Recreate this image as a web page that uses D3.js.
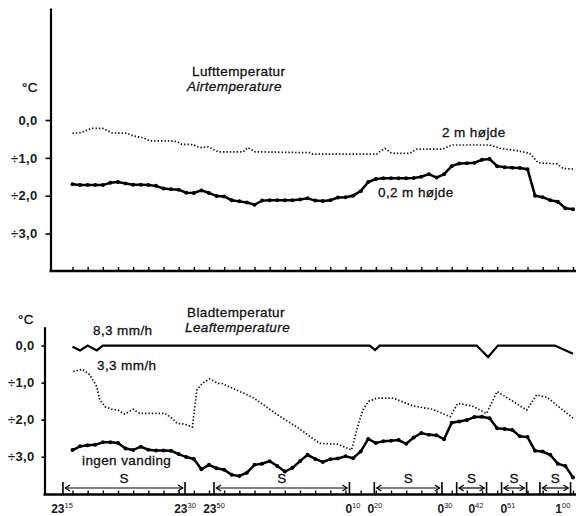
<!DOCTYPE html>
<html>
<head>
<meta charset="utf-8">
<script src="https://cdn.jsdelivr.net/npm/d3@7"></script>
<style>
    body { margin: 0; background: #fff; }
    svg { display: block; font-family: 'Liberation Sans', Arial, sans-serif; }
</style>
</head>
<body>
<svg id="chart" width="576" height="516"></svg>
<script>
// Samples: one every half tick (s = 0 .. 66)
const tickSamples = d3.range(0, 67, 2);

// Lufttemperatur, 0,2 m hojde (one value per sample)
const air02 = [
    -1.70, -1.72, -1.72, -1.72, -1.72, -1.66, -1.64, -1.68, -1.71, -1.71,
    -1.72, -1.74, -1.81, -1.83, -1.84, -1.92, -1.93, -1.86, -1.93, -2.01,
    -2.02, -2.12, -2.15, -2.18, -2.24, -2.13, -2.12, -2.12, -2.12, -2.12,
    -2.10, -2.07, -2.13, -2.14, -2.12, -2.05, -2.04, -2.00, -1.88, -1.64,
    -1.56, -1.54, -1.54, -1.54, -1.54, -1.53, -1.50, -1.43, -1.52, -1.43,
    -1.22, -1.15, -1.14, -1.13, -1.05, -1.03, -1.22, -1.25, -1.26, -1.27,
    -1.30, -2.00, -2.04, -2.12, -2.16, -2.33, -2.36
];

// Lufttemperatur, 2 m hojde [sample, degC]
const air2m = [
    [0, -0.35], [1.2, -0.33], [2.1, -0.25], [2.6, -0.22], [4.0, -0.22], [5.2, -0.34],
    [7.2, -0.35], [8.0, -0.42], [9.3, -0.47], [10.2, -0.55], [12.9, -0.55], [13.8, -0.57],
    [14.4, -0.64], [15.9, -0.65], [16.8, -0.73], [17.9, -0.71], [19.2, -0.84], [22.5, -0.84],
    [23.1, -0.73], [24.1, -0.84], [29.7, -0.86], [31.3, -0.86], [31.7, -0.90], [40.1, -0.90],
    [40.5, -0.84], [41.2, -0.75], [42.1, -0.88], [44.5, -0.88], [45.4, -0.77], [48.8, -0.77],
    [50.0, -0.66], [55.0, -0.66], [56.4, -0.75], [58.6, -0.81], [60.3, -0.88], [61.4, -1.13],
    [63.9, -1.16], [64.7, -1.28], [66.2, -1.30]
];

// Bladtemperatur, ingen vanding (one value per sample)
const leafDry = [
    -2.82, -2.72, -2.69, -2.68, -2.61, -2.61, -2.63, -2.78, -2.82, -2.73,
    -2.81, -2.83, -2.83, -2.84, -2.93, -3.01, -3.06, -3.34, -3.22, -3.31,
    -3.35, -3.49, -3.52, -3.43, -3.22, -3.19, -3.12, -3.25, -3.40, -3.30,
    -3.12, -2.95, -3.06, -3.14, -3.07, -3.05, -2.99, -3.04, -2.86, -2.52,
    -2.63, -2.58, -2.57, -2.55, -2.65, -2.48, -2.36, -2.41, -2.42, -2.53,
    -2.08, -2.05, -2.01, -1.93, -1.92, -1.96, -2.23, -2.25, -2.28, -2.45,
    -2.47, -2.84, -2.86, -2.95, -3.19, -3.25, -3.56
];

// Bladtemperatur, 8,3 mm/h [sample, degC]
const leaf83 = [
    [0, -0.03], [1, -0.13], [2, 0], [3.2, -0.13], [4, 0], [39.2, 0], [39.9, -0.12],
    [40.5, 0], [53.3, 0], [54.8, -0.31], [56.1, 0], [63.6, 0], [66, -0.22]
];

// Bladtemperatur, 3,3 mm/h [sample, degC]
const leaf33 = [
    [0.1, -0.70], [1.3, -0.64], [2.3, -0.79], [3.2, -1.11], [3.6, -1.47], [4.3, -1.65],
    [5.2, -1.72], [6.0, -1.74], [6.9, -1.85], [8.0, -1.72], [8.9, -1.83], [12.2, -1.83],
    [13.1, -1.96], [13.8, -2.10], [14.8, -2.12], [15.8, -2.20], [16.4, -1.20], [17.1, -1.02],
    [18.1, -0.90], [19.2, -1.02], [19.8, -1.03], [23.8, -1.40], [27.4, -1.92], [29.6, -2.20],
    [32.6, -2.64], [35.0, -2.66], [36.8, -2.82], [37.6, -2.19], [38.3, -1.74], [39.0, -1.51],
    [40.1, -1.42], [42.3, -1.42], [44.9, -1.63], [47.5, -1.72], [49.8, -1.92], [50.8, -1.56],
    [52.7, -1.63], [54.6, -1.83], [56.0, -1.24], [59.9, -1.74], [61.2, -1.33], [62.6, -1.40],
    [66.0, -1.96]
];

// Sprinkling periods (S) [start, end] in samples
const sPeriods = [[-1.26, 14.84], [18.66, 36.52], [39.8, 48.72], [50.66, 54.6], [56.58, 59.88], [61.64, 65.68]];

// Time labels
const timeHour = ['23', '23', '23', '0', '0', '0', '0', '0', '1'];
const timeMin = ['15', '30', '50', '10', '20', '30', '42', '51', '00'];
const timeAt = [-1.38, 14.84, 18.66, 36.98, 39.88, 49.12, 53.2, 57.42, 64.66];

const yTickValues = [0, -1, -2, -3];

const svg = d3.select('#chart');
const fmt = d => d === 0 ? '0,0' : '\u00f7' + Math.abs(d).toFixed(1).replace('.', ',');

const x = d3.scaleLinear().domain([0, 66]).range([72.5, 573]);
const yTop = d3.scaleLinear().domain([-3.99, 2.96]).range([271, 8]);
const yBot = d3.scaleLinear().domain([-4.02, 0.51]).range([494.5, 326.7]);

svg.append('rect').attr('width', 576).attr('height', 516).attr('fill', '#fff');

// Axes

const drawAxes = (yScale, axisX, baseY, tickSize, tickPad) => {
    svg.append('g')
        .attr('transform', `translate(${axisX},0)`)
        .call(d3.axisLeft(yScale).tickValues(yTickValues).tickSize(tickSize).tickSizeOuter(0).tickPadding(tickPad).tickFormat(fmt))
        .call(g => g.select('.domain').attr('stroke-width', 2.2))
        .call(g => g.selectAll('.tick line').attr('stroke-width', 1.6))
        .call(g => g.selectAll('text')
            .attr('font-size', 13).attr('font-weight', 'bold').attr('fill', '#1a1a1a')
            .attr('letter-spacing', 0.3));

    svg.append('g')
        .attr('transform', `translate(0,${baseY})`)
        .call(d3.axisBottom(x).tickValues(tickSamples).tickSize(-4).tickFormat(''))
        .call(g => g.select('.domain').remove())
        .call(g => g.selectAll('.tick line').attr('stroke-width', 1.4));

    svg.append('line')
        .attr('x1', axisX - 1).attr('x2', 576)
        .attr('y1', baseY).attr('y2', baseY)
        .attr('stroke', '#000').attr('stroke-width', 2.4);
};

drawAxes(yTop, 50.5, 271, 5, 8);
drawAxes(yBot, 44.5, 494.5, 3, 7);

// Lines

const lineTop = d3.line().x(d => x(d[0])).y(d => yTop(d[1]));
const lineBot = d3.line().x(d => x(d[0])).y(d => yBot(d[1]));

svg.append('path')
    .datum(air2m)
    .attr('d', lineTop)
    .attr('fill', 'none').attr('stroke', '#111')
    .attr('stroke-width', 1.7).attr('stroke-dasharray', '1.4,2');

const air02Pts = air02.map((v, i) => [i, v]);
svg.append('path')
    .datum(air02Pts)
    .attr('d', lineTop)
    .attr('fill', 'none').attr('stroke', '#000').attr('stroke-width', 2.5);

svg.selectAll('.dot-air')
    .data(air02Pts)
    .enter()
    .append('circle')
    .attr('class', 'dot-air')
    .attr('cx', d => x(d[0])).attr('cy', d => yTop(d[1]))
    .attr('r', 2).attr('fill', '#000');

svg.append('path')
    .datum(leaf83)
    .attr('d', lineBot)
    .attr('fill', 'none').attr('stroke', '#000').attr('stroke-width', 2.2);

svg.append('path')
    .datum(leaf33)
    .attr('d', lineBot)
    .attr('fill', 'none').attr('stroke', '#111')
    .attr('stroke-width', 1.7).attr('stroke-dasharray', '1.4,2');

const leafDryPts = leafDry.map((v, i) => [i, v]);
svg.append('path')
    .datum(leafDryPts)
    .attr('d', lineBot)
    .attr('fill', 'none').attr('stroke', '#000').attr('stroke-width', 2.5);

svg.selectAll('.dot-leaf')
    .data(leafDryPts)
    .enter()
    .append('circle')
    .attr('class', 'dot-leaf')
    .attr('cx', d => x(d[0])).attr('cy', d => yBot(d[1]))
    .attr('r', 2).attr('fill', '#000');

// Sprinkling brackets

const bracket = svg.append('g').attr('stroke', '#000').attr('fill', 'none');
sPeriods.forEach(([a, b]) => {
    const xa = x(a), xb = x(b);
    bracket.append('line').attr('x1', xa).attr('x2', xa).attr('y1', 482).attr('y2', 495).attr('stroke-width', 1.6);
    bracket.append('line').attr('x1', xb).attr('x2', xb).attr('y1', 482).attr('y2', 495).attr('stroke-width', 1.6);
    bracket.append('line').attr('x1', xa + 2).attr('x2', xb - 2).attr('y1', 488).attr('y2', 488).attr('stroke-width', 1.2);
    bracket.append('path').attr('d', `M${xa + 7},485 L${xa + 2.5},488 L${xa + 7},491`).attr('stroke-width', 1.2);
    bracket.append('path').attr('d', `M${xb - 7},485 L${xb - 2.5},488 L${xb - 7},491`).attr('stroke-width', 1.2);
    svg.append('text')
        .attr('x', (xa + xb) / 2).attr('y', 483)
        .attr('text-anchor', 'middle').attr('font-size', 13.5)
        .attr('fill', '#111').attr('stroke', '#111').attr('stroke-width', 0.3)
        .text('S');
});

// Time labels

timeHour.forEach((h, i) => {
    const t = svg.append('text')
        .attr('x', x(timeAt[i])).attr('y', 513)
        .attr('text-anchor', 'middle').attr('font-size', 12).attr('font-weight', 'bold').attr('fill', '#1a1a1a');
    t.append('tspan').text(h);
    t.append('tspan').attr('font-size', 7.5).attr('font-weight', 'normal').attr('dy', -5).text(timeMin[i]);
});

// Texts

const label = (tx, ty, str, italic) => svg.append('text')
    .attr('x', tx).attr('y', ty)
    .attr('font-size', 13.5).attr('fill', '#111')
    .attr('stroke', '#111').attr('stroke-width', 0.3)
    .attr('letter-spacing', 0.4)
    .attr('font-style', italic ? 'italic' : 'normal')
    .text(str);

label(22, 92, '\u00b0C');
label(192, 76, 'Lufttemperatur');
label(187, 91, 'Airtemperature', true);
label(442, 137, '2 m h\u00f8jde');
label(378, 197, '0,2 m h\u00f8jde');

label(18, 324, '\u00b0C');
label(187, 317, 'Bladtemperatur');
label(185, 332, 'Leaftemperature', true);
label(93, 335, '8,3 mm/h');
label(97, 370, '3,3 mm/h');
label(82, 465, 'ingen vanding');
</script>
</body>
</html>
